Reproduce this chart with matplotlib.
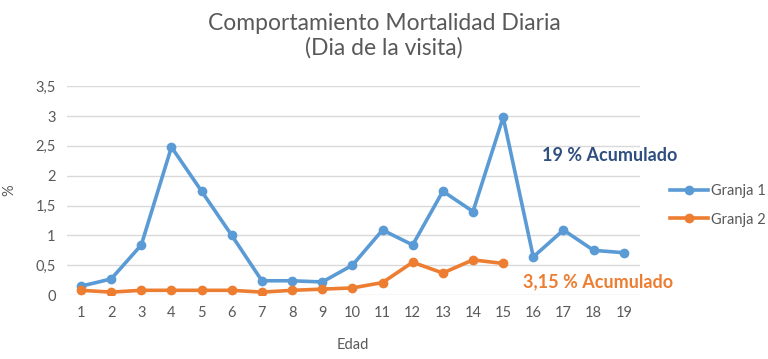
import matplotlib
matplotlib.use('Agg')
import matplotlib.pyplot as plt
from matplotlib.ticker import FuncFormatter

plt.rcParams['font.family'] = ['Lato', 'DejaVu Sans']

edad = list(range(1, 20))
granja1 = [0.15, 0.27, 0.84, 2.48, 1.74, 1.0, 0.24, 0.24, 0.22, 0.5,
           1.09, 0.84, 1.74, 1.4, 2.98, 0.64, 1.09, 0.75, 0.71]
edad2 = list(range(1, 16))
granja2 = [0.08, 0.05, 0.08, 0.08, 0.08, 0.08, 0.05, 0.08, 0.1, 0.12,
           0.21, 0.55, 0.37, 0.59, 0.53]

azul = '#5B9BD5'
naranja = '#ED7D31'
gris = '#595959'

fig = plt.figure(figsize=(7.68, 3.59), dpi=100)
ax = fig.add_axes([0.087, 0.178, 0.746, 0.582])

ax.plot(edad, granja1, color=azul, lw=2.6, marker='o', ms=6, label='Granja 1', zorder=3)
ax.plot(edad2, granja2, color=naranja, lw=2.6, marker='o', ms=6, label='Granja 2', zorder=3)

ax.set_xlim(0.53, 19.53)
ax.set_ylim(0, 3.5)
ax.set_xticks(edad)
ax.set_yticks([0, 0.5, 1, 1.5, 2, 2.5, 3, 3.5])
ax.yaxis.set_major_formatter(FuncFormatter(lambda v, p: ('%g' % v).replace('.', ',')))
ax.grid(axis='y', color='#D9D9D9', lw=1)
ax.set_axisbelow(True)
for s in ax.spines.values():
    s.set_visible(False)
ax.tick_params(length=0, colors=gris, labelsize=10.5, pad=8)

ax.set_xlabel('Edad', color=gris, fontsize=10.5, labelpad=13)
ax.set_ylabel('%', color=gris, fontsize=10.5, labelpad=14)

fig.text(0.5, 0.9, 'Comportamiento Mortalidad Diaria\n(Dia de la visita)',
         ha='center', va='center', fontsize=16.5, color=gris, linespacing=1.2)

ax.text(16.3, 2.34, '19 % Acumulado', color='#2F4F80', fontsize=13,
        fontweight='bold', va='center', ha='left')
ax.text(15.65, 0.22, '3,15 % Acumulado', color=naranja, fontsize=13,
        fontweight='bold', va='center', ha='left')

ax.legend(loc='center left', bbox_to_anchor=(1.03, 0.43), frameon=False,
          fontsize=10.5, labelcolor=gris, handlelength=2.6, labelspacing=1.0,
          handletextpad=0.2)

plt.savefig('out.png', dpi=100)
